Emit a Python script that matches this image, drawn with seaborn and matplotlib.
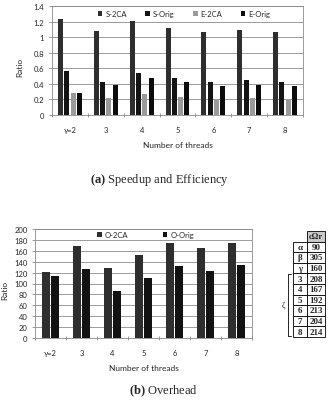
import numpy as np
import pandas as pd
import matplotlib
matplotlib.use("Agg")
import matplotlib.pyplot as plt
import seaborn as sns
from matplotlib.patches import Rectangle
from matplotlib.lines import Line2D

# ---------------- data ----------------
threads = ["γ=2", "3", "4", "5", "6", "7", "8"]
s_2ca = [1.23, 1.08, 1.21, 1.12, 1.06, 1.09, 1.06]
s_orig = [0.56, 0.43, 0.54, 0.47, 0.42, 0.445, 0.42]
e_2ca = [0.28, 0.22, 0.27, 0.235, 0.21, 0.22, 0.21]
e_orig = [0.28, 0.39, 0.48, 0.42, 0.37, 0.39, 0.37]
speed_series = ["S-2CA", "S-Orig", "E-2CA", "E-Orig"]

o_2ca = [121, 169, 129, 153, 174, 165, 174]
o_orig = [113, 126, 86, 111, 132, 123, 134]
over_series = ["O-2CA", "O-Orig"]

table_labels = ["α", "β", "γ", "3", "4", "5", "6", "7", "8"]
table_values = ["90", "305", "160", "208", "167", "192", "213", "204", "214"]
table_header = "cΩr"

# ---------------- style ----------------
sns.set_style("white")
plt.rcParams['font.family'] = ['Lato', 'DejaVu Sans']
plt.rcParams['mathtext.fontset'] = 'custom'
plt.rcParams['mathtext.rm'] = 'Liberation Serif'
plt.rcParams['mathtext.bf'] = 'Liberation Serif:bold'

W, H = 332, 410
fig = plt.figure(figsize=(W / 100, H / 100), dpi=100)

def fx(px):
    return px / W

def fy(py):
    return 1 - py / H

grid_c = "#8a8a8a"

def style_axes(ax, ymax, ystep, fmt):
    ax.set_ylim(0, ymax)
    ax.set_xlim(-0.5, len(threads) - 0.5)
    ax.set_yticks(np.arange(0, ymax + ystep / 2, ystep))
    ax.set_yticklabels([fmt(v) for v in np.arange(0, ymax + ystep / 2, ystep)], fontsize=5.5)
    ax.yaxis.grid(True, color=grid_c, lw=0.6)
    ax.set_axisbelow(True)
    for s in ax.spines.values():
        s.set_visible(True)
        s.set_color(grid_c)
        s.set_linewidth(0.6)
    ax.tick_params(axis='y', length=2.5, width=0.6, color=grid_c, pad=3, left=True)
    ax.set_xticks(range(len(threads)))
    ax.set_xticklabels(threads, fontsize=5.5)
    ax.tick_params(axis='x', length=0, pad=8)
    ax.set_xticks(np.arange(-0.5, len(threads), 1), minor=True)
    ax.tick_params(axis='x', which='minor', length=3, width=0.6, color=grid_c, direction='inout', bottom=True)

# ---------------- top chart ----------------
ax1 = fig.add_axes([fx(52), fy(116), fx(303) - fx(52), fy(7) - fy(116)])
df1 = pd.DataFrame({
    "thread": threads * 4,
    "series": sum([[s] * len(threads) for s in speed_series], []),
    "value": s_2ca + s_orig + e_2ca + e_orig,
})
sns.barplot(data=df1, x="thread", y="value", hue="series", order=threads,
            hue_order=speed_series,
            palette=["#2e2e2e", "#141414", "#9a9a9a", "#0c0c0c"],
            width=0.7, gap=0.2, saturation=1, linewidth=0, ax=ax1)
style_axes(ax1, 1.4, 0.2, lambda v: "0" if abs(v) < 1e-9 else ("1" if abs(v - 1) < 1e-9 else f"{v:.1f}"))
ax1.set_ylabel("Ratio", fontsize=6)
ax1.yaxis.set_label_coords((23 - 52) / 251, 0.45)
ax1.set_xlabel("Number of threads", fontsize=6, labelpad=6)
sns.move_legend(ax1, "center", bbox_to_anchor=(0.526, 0.927), ncol=4, frameon=False,
                title=None, fontsize=5.5, handlelength=0.6, handleheight=0.6,
                handletextpad=0.4, columnspacing=2.4)

# ---------------- bottom chart ----------------
ax2 = fig.add_axes([fx(35), fy(339), fx(252) - fx(35), fy(230) - fy(339)])
df2 = pd.DataFrame({
    "thread": threads * 2,
    "series": sum([[s] * len(threads) for s in over_series], []),
    "value": o_2ca + o_orig,
})
sns.barplot(data=df2, x="thread", y="value", hue="series", order=threads,
            hue_order=over_series, palette=["#2e2e2e", "#121212"],
            width=0.56, gap=0.08, saturation=1, linewidth=0, ax=ax2)
style_axes(ax2, 200, 20, lambda v: f"{int(round(v))}")
ax2.set_ylabel("Ratio", fontsize=6)
ax2.yaxis.set_label_coords((8 - 35) / 217, 0.45)
ax2.set_xlabel("Number of threads", fontsize=6, labelpad=6)
sns.move_legend(ax2, "center", bbox_to_anchor=(0.51, 0.945), ncol=2, frameon=False,
                title=None, fontsize=5.5, handlelength=0.6, handleheight=0.6,
                handletextpad=0.4, columnspacing=4.5)

# ---------------- captions ----------------
serif = ['Liberation Serif', 'DejaVu Serif']
fig.text(fx(160), fy(180), r"$\mathbf{(a)}$ Speedup and Efficiency", ha="center", va="center",
         fontsize=9, family=serif)
fig.text(fx(163), fy(391), r"$\mathbf{(b)}$ Overhead", ha="center", va="center",
         fontsize=9, family=serif)

# ---------------- side table ----------------
top = 232.0
rh = 10.6
xl0, xl1, xr1 = 293.0, 307.0, 325.0
# header cell
fig.add_artist(Rectangle((fx(xl1), fy(top + rh)), fx(xr1) - fx(xl1), fy(top) - fy(top + rh),
                         transform=fig.transFigure, facecolor="#c9c9c9", edgecolor="black", lw=0.6))
fig.text(fx((xl1 + xr1) / 2), fy(top + rh / 2), table_header, ha="center", va="center",
         fontsize=6, family=serif, weight="bold")
for i, (lab, val) in enumerate(zip(table_labels, table_values)):
    y0 = top + rh * (i + 1)
    y1 = y0 + rh
    for (a, b, t) in ((xl0, xl1, lab), (xl1, xr1, val)):
        fig.add_artist(Rectangle((fx(a), fy(y1)), fx(b) - fx(a), fy(y0) - fy(y1),
                                 transform=fig.transFigure, facecolor="white",
                                 edgecolor="black", lw=0.6))
        fig.text(fx((a + b) / 2), fy((y0 + y1) / 2), t, ha="center", va="center",
                 fontsize=6.5, family=serif, weight="bold")

# bracket for zeta rows
bx = 288.0
by0 = top + rh * 4 + 1
by1 = top + rh * 10 - 1
fig.add_artist(Line2D([fx(bx + 3), fx(bx), fx(bx), fx(bx + 3)],
                      [fy(by0), fy(by0), fy(by1), fy(by1)],
                      transform=fig.transFigure, color="black", lw=0.6))
fig.text(fx(283), fy((by0 + by1) / 2), "ζ", ha="center", va="center", fontsize=6, family=serif)

fig.savefig("out.png", dpi=100)
